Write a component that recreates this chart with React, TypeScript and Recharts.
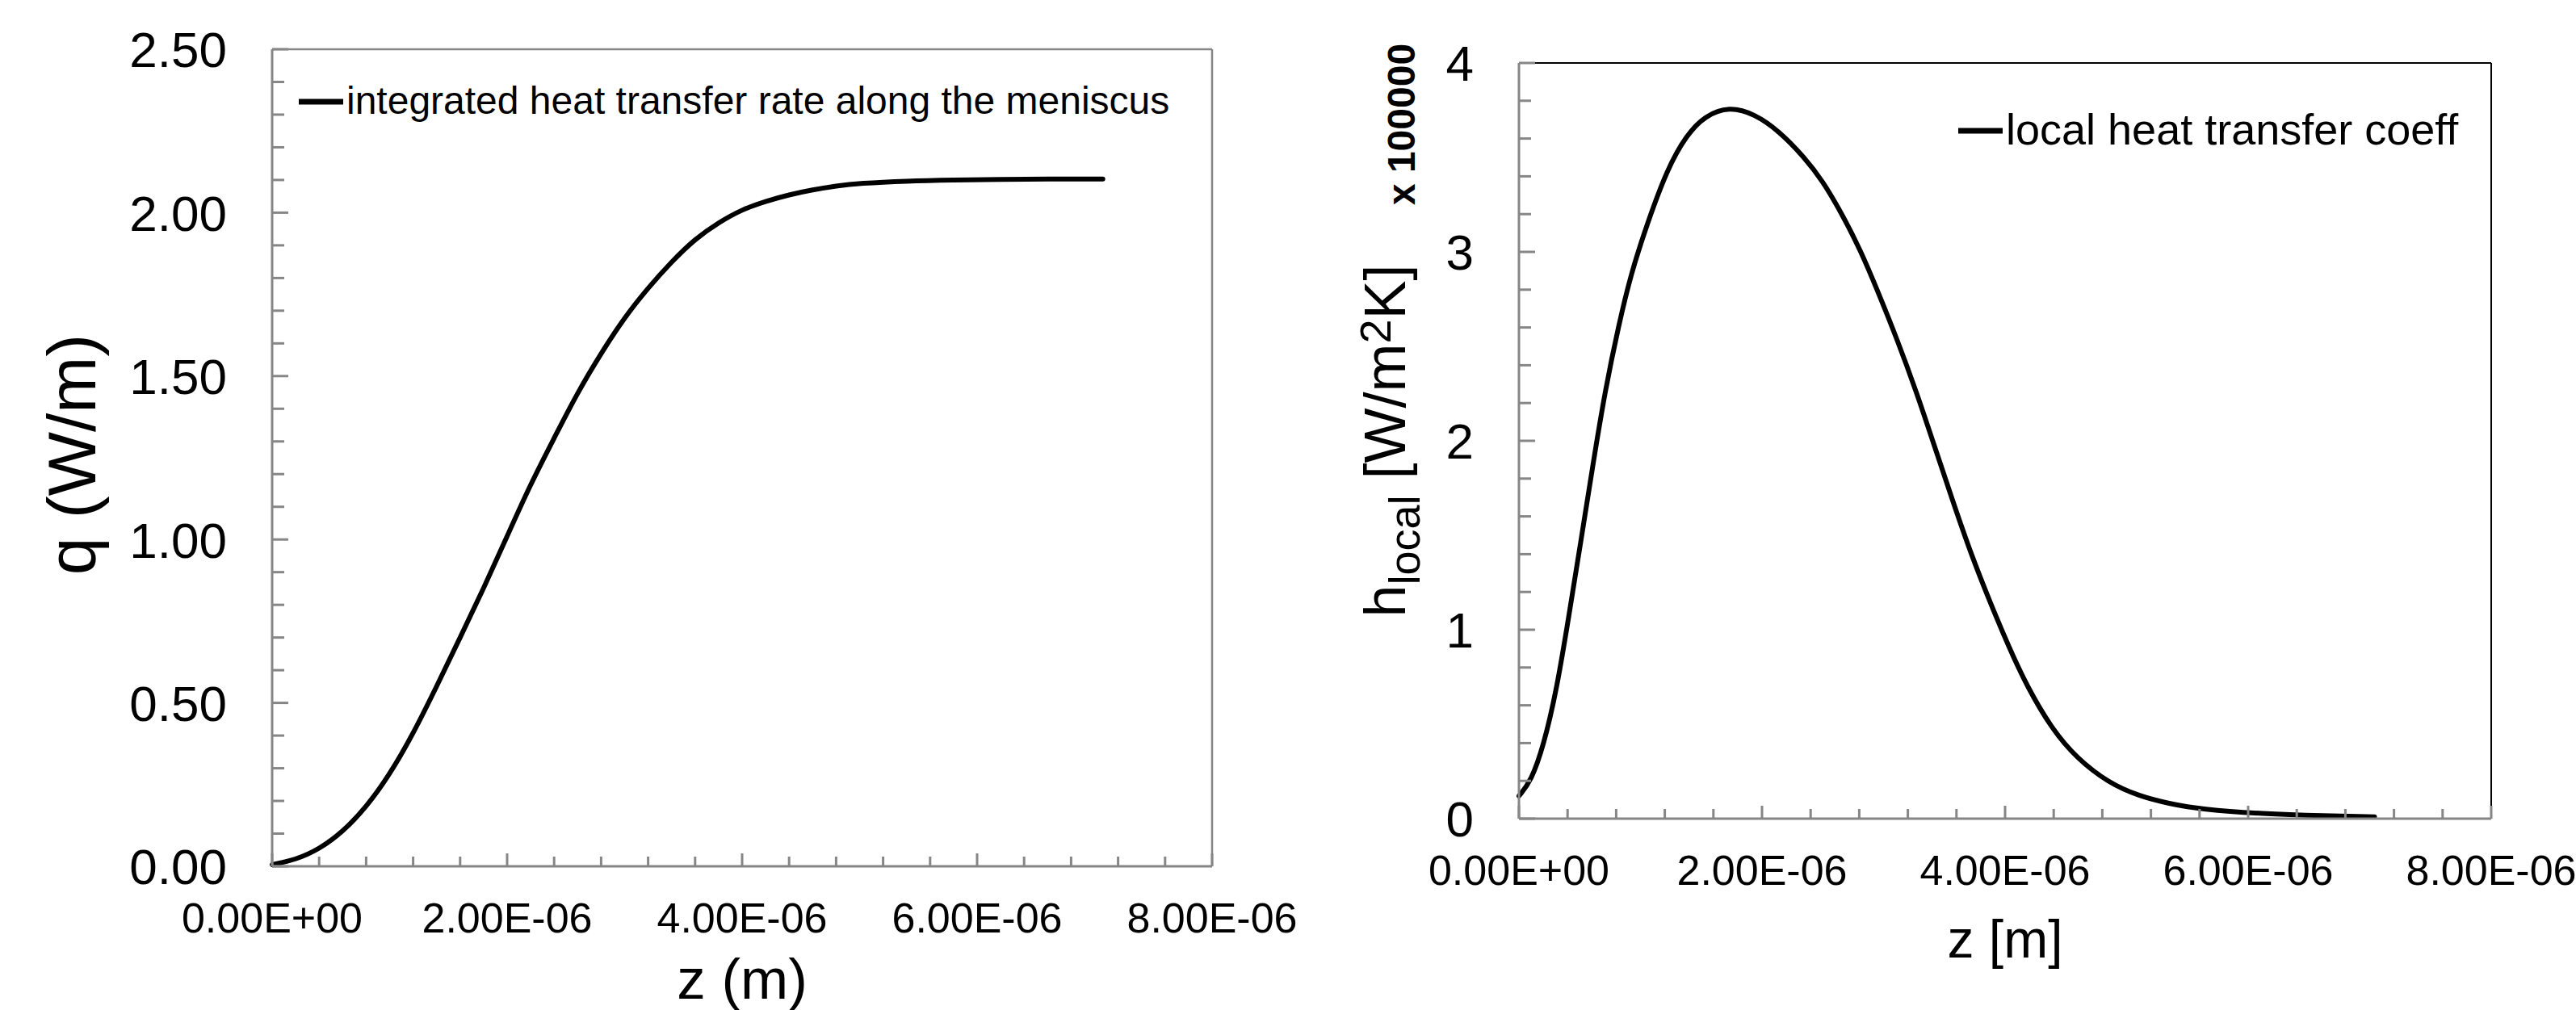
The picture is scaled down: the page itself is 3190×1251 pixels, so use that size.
import React from 'react';
import { LineChart, Line, XAxis, YAxis, Legend, ReferenceLine } from 'recharts';

const FONT = '"Liberation Sans", Arial, Helvetica, sans-serif';
const AXIS_GRAY = '#868686';

// integrated heat transfer rate q (W/m) along z (m)
const qZ = [
  0, 0.2e-6, 0.4e-6, 0.6e-6, 0.8e-6, 1.0e-6, 1.2e-6, 1.4e-6, 1.6e-6, 1.8e-6, 2.0e-6,
  2.2e-6, 2.4e-6, 2.6e-6, 2.8e-6, 3.0e-6, 3.2e-6, 3.4e-6, 3.6e-6, 3.8e-6, 4.0e-6,
  4.2e-6, 4.4e-6, 4.6e-6, 4.8e-6, 5.0e-6, 5.4e-6, 5.8e-6, 6.2e-6, 6.6e-6, 7.07e-6,
];
const qValues = [
  0.005, 0.02, 0.052, 0.105, 0.18, 0.28, 0.405, 0.55, 0.7, 0.85, 1.01,
  1.17, 1.31, 1.45, 1.57, 1.68, 1.77, 1.85, 1.92, 1.97, 2.01,
  2.035, 2.055, 2.07, 2.082, 2.09, 2.097, 2.1, 2.102, 2.103, 2.103,
];

// local heat transfer coefficient (x 100000 W/m2K) along z (m)
const hZ = [
  0, 0.1e-6, 0.2e-6, 0.31e-6, 0.41e-6, 0.51e-6, 0.61e-6, 0.71e-6, 0.82e-6, 0.92e-6,
  1.05e-6, 1.22e-6, 1.38e-6, 1.53e-6, 1.73e-6, 1.94e-6, 2.14e-6, 2.35e-6, 2.5e-6,
  2.65e-6, 2.81e-6, 2.96e-6, 3.11e-6, 3.27e-6, 3.42e-6, 3.57e-6, 3.72e-6, 3.88e-6,
  4.03e-6, 4.18e-6, 4.39e-6, 4.59e-6, 4.85e-6, 5.1e-6, 5.36e-6, 5.61e-6, 6.12e-6,
  6.63e-6, 7.04e-6,
];
const hValues = [
  0.12, 0.2, 0.38, 0.68, 1.07, 1.47, 1.88, 2.27, 2.61, 2.88,
  3.14, 3.44, 3.62, 3.72, 3.77, 3.73, 3.64, 3.5, 3.375,
  3.21, 3.01, 2.78, 2.54, 2.26, 1.97, 1.68, 1.4, 1.14,
  0.91, 0.7, 0.47, 0.32, 0.19, 0.12, 0.078, 0.05, 0.025,
  0.015, 0.01,
];

const zTicks = [0, 2e-6, 4e-6, 6e-6, 8e-6];
const qTicks = [0, 0.5, 1, 1.5, 2, 2.5];
const hTicks = [0, 1, 2, 3, 4];

const steps = (max: number, step: number) =>
  Array.from({ length: Math.round(max / step) + 1 }, (_, i) => +(i * step).toPrecision(12));

const zAll = steps(8e-6, 0.4e-6);
const qAll = steps(2.5, 0.1);
const hAll = steps(4, 0.2);

const qData = qZ.map((z, i) => ({ z, q: qValues[i] }));
const hData = hZ.map((z, i) => ({ z, h: hValues[i] }));

const fmtSci = (v: number) => {
  const [m, e] = v.toExponential(2).split('e');
  const n = Number(e);
  return `${m}E${n < 0 ? '-' : '+'}${String(Math.abs(n)).padStart(2, '0')}`;
};

const isMajor = (majors: number[], v: number, eps: number) => majors.some((t) => Math.abs(t - v) < eps);

const YTick = (props: any) => {
  const { x, y, payload, majors, fmt, eps, fontSize } = props;
  const major = isMajor(majors, payload.value, eps);
  return (
    <g>
      <line x1={x} y1={y} x2={x + (major ? 20 : 15)} y2={y} stroke={AXIS_GRAY} strokeWidth={3} />
      {major && (
        <text x={x - 56} y={y} dy="0.36em" textAnchor="end" fontSize={fontSize} fontFamily={FONT} fill="#000">
          {fmt(payload.value)}
        </text>
      )}
    </g>
  );
};

const XTick = (props: any) => {
  const { x, y, payload } = props;
  const major = isMajor(zTicks, payload.value, 1e-9);
  return (
    <g>
      <line x1={x} y1={y} x2={x} y2={y - (major ? 16 : 12)} stroke={AXIS_GRAY} strokeWidth={3} />
      {major && (
        <text x={x} y={y + 82} textAnchor="middle" fontSize={52} fontFamily={FONT} fill="#000">
          {fmtSci(payload.value)}
        </text>
      )}
    </g>
  );
};

const LegendLine = (props: any) => {
  const { payload, fontSize, baseline } = props;
  const name = payload && payload[0] ? payload[0].value : '';
  return (
    <svg width={1300} height={70} style={{ display: 'block', overflow: 'visible' }}>
      <line x1={0} y1={30} x2={55} y2={30} stroke="#000" strokeWidth={7} />
      <text x={59} y={baseline} fontSize={fontSize} fontFamily={FONT} fill="#000">
        {name}
      </text>
    </svg>
  );
};

const LeftYTitle = (props: any) => {
  const vb = props.viewBox;
  const cx = vb.x + vb.width - 219;
  const cy = vb.y + vb.height / 2 - 4;
  return (
    <text x={cx} y={cy} transform={`rotate(-90 ${cx} ${cy})`} textAnchor="middle" fontSize={84} fontFamily={FONT} fill="#000">
      q (W/m)
    </text>
  );
};

const RightYTitle = (props: any) => {
  const vb = props.viewBox;
  const cx = vb.x + vb.width - 141;
  const cy = vb.y + vb.height / 2;
  const sx = vb.x + vb.width - 129;
  const sy = vb.y + 76;
  return (
    <g>
      <text x={cx} y={cy} transform={`rotate(-90 ${cx} ${cy})`} textAnchor="middle" fontSize={72} fontFamily={FONT} fill="#000">
        <tspan>h</tspan>
        <tspan fontSize={54} dy={18}>local</tspan>
        <tspan dy={-18}> [W/m</tspan>
        <tspan fontSize={54} dy={-18}>2</tspan>
        <tspan dy={18}>K]</tspan>
      </text>
      <text x={sx} y={sy} transform={`rotate(-90 ${sx} ${sy})`} textAnchor="middle" fontSize={48} fontWeight="bold" fontFamily={FONT} fill="#000">
        x 100000
      </text>
    </g>
  );
};

const XTitle = (props: any) => {
  const { viewBox, text, fontSize, offset } = props;
  return (
    <text x={viewBox.x + viewBox.width / 2} y={viewBox.y + offset} textAnchor="middle" fontSize={fontSize} fontFamily={FONT} fill="#000">
      {text}
    </text>
  );
};

export default function App() {
  return (
    <div style={{ position: 'absolute', left: 0, top: 0, width: 3190, height: 1251, background: '#fff', fontFamily: FONT }}>
      <div style={{ position: 'absolute', left: 0, top: 0 }}>
        <LineChart width={1630} height={1251} data={qData} margin={{ top: 61, right: 129, left: 0, bottom: 0 }}>
          <XAxis
            type="number"
            dataKey="z"
            domain={[0, 8e-6]}
            ticks={zAll}
            interval={0}
            tickLine={false}
            tickSize={0}
            tickMargin={0}
            height={178}
            axisLine={{ stroke: AXIS_GRAY, strokeWidth: 3 }}
            tick={<XTick />}
            label={{ content: (p: any) => <XTitle {...p} text="z (m)" fontSize={71} offset={164} /> }}
          />
          <YAxis
            type="number"
            domain={[0, 2.5]}
            ticks={qAll}
            interval={0}
            tickLine={false}
            tickSize={0}
            tickMargin={0}
            width={337}
            axisLine={{ stroke: AXIS_GRAY, strokeWidth: 3 }}
            tick={<YTick majors={qTicks} eps={0.001} fontSize={62} fmt={(v: number) => v.toFixed(2)} />}
            label={{ content: (p: any) => <LeftYTitle {...p} /> }}
          />
          <ReferenceLine y={2.5} stroke={AXIS_GRAY} strokeWidth={2.5} />
          <ReferenceLine x={8e-6} stroke={AXIS_GRAY} strokeWidth={2.5} />
          <Legend
            layout="horizontal"
            verticalAlign="middle"
            align="center"
            wrapperStyle={{ left: 370, top: 95.5, width: 'auto', height: 'auto', right: 'auto', bottom: 'auto' }}
            content={(p: any) => <LegendLine {...p} fontSize={48} baseline={44.5} />}
          />
          <Line
            dataKey="q"
            name="integrated heat transfer rate along the meniscus"
            type="basis"
            stroke="#000"
            strokeWidth={6}
            strokeLinecap="round"
            dot={false}
            activeDot={false}
            isAnimationActive={false}
          />
        </LineChart>
      </div>
      <div style={{ position: 'absolute', left: 1600, top: 0 }}>
        <LineChart width={1590} height={1251} data={hData} margin={{ top: 78, right: 105, left: 0, bottom: 0 }}>
          <XAxis
            type="number"
            dataKey="z"
            domain={[0, 8e-6]}
            ticks={zAll}
            interval={0}
            tickLine={false}
            tickSize={0}
            tickMargin={0}
            height={237}
            axisLine={{ stroke: AXIS_GRAY, strokeWidth: 3 }}
            tick={<XTick />}
            label={{ content: (p: any) => <XTitle {...p} text="z [m]" fontSize={66} offset={172} /> }}
          />
          <YAxis
            type="number"
            domain={[0, 4]}
            ticks={hAll}
            interval={0}
            tickLine={false}
            tickSize={0}
            tickMargin={0}
            width={281}
            axisLine={{ stroke: AXIS_GRAY, strokeWidth: 3 }}
            tick={<YTick majors={hTicks} eps={0.001} fontSize={62} fmt={(v: number) => String(v)} />}
            label={{ content: (p: any) => <RightYTitle {...p} /> }}
          />
          <ReferenceLine y={4} stroke="#000" strokeWidth={2} />
          <ReferenceLine x={8e-6} stroke="#000" strokeWidth={2} />
          <Legend
            layout="horizontal"
            verticalAlign="middle"
            align="center"
            wrapperStyle={{ left: 825, top: 131.5, width: 'auto', height: 'auto', right: 'auto', bottom: 'auto' }}
            content={(p: any) => <LegendLine {...p} fontSize={54} baseline={47} />}
          />
          <Line
            dataKey="h"
            name="local heat transfer coeff"
            type="basis"
            stroke="#000"
            strokeWidth={6}
            strokeLinecap="round"
            dot={false}
            activeDot={false}
            isAnimationActive={false}
          />
        </LineChart>
      </div>
    </div>
  );
}
